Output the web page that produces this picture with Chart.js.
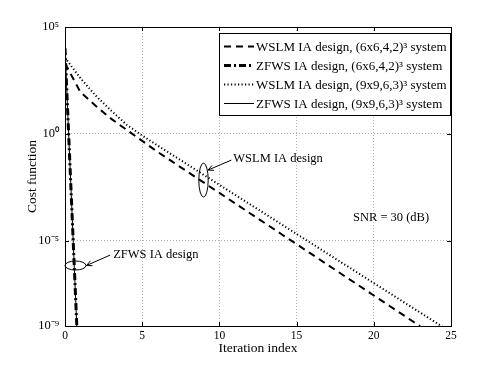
<!DOCTYPE html>
<html>
<head>
<meta charset="utf-8">
<script src="https://cdn.jsdelivr.net/npm/chart.js@4.4.0/dist/chart.umd.min.js"></script>
<style>
  html, body { margin: 0; padding: 0; background: #fff; }
  #wrap { width: 498px; height: 367px; }
</style>
</head>
<body>
<div id="wrap"><canvas id="chart"></canvas></div>
<script>
/* Cost function vs. iteration index (log scale), WSLM / ZFWS IA design */

const FONT = '"Liberation Serif", "Times New Roman", serif';

// ---------------------- Data ----------------------
const iterZF = [0, 1];
const costZF66 = [1.0e4, 1.0e-13];
const costZF99 = [1.1e4, 1.0e-13];

const iterWS66 = [0, 1, 2, 3, 4, 5, 6, 7, 8, 9, 10, 11, 12, 13, 14, 15, 16, 17, 18, 19, 20, 21, 22, 23];
const costWS66 = [2.0e3, 89, 20, 5.0, 1.51, 0.468, 0.141, 4.68e-2, 1.55e-2, 5.13e-3, 1.70e-3, 5.62e-4,
                  1.86e-4, 6.17e-5, 2.04e-5, 6.76e-6, 2.24e-6, 7.41e-7, 2.45e-7, 8.13e-8, 2.69e-8,
                  8.91e-9, 2.95e-9, 9.77e-10];

const iterWS99 = [0, 1, 2, 3, 4, 5, 6, 7, 8, 9, 10, 11, 12, 13, 14, 15, 16, 17, 18, 19, 20, 21, 22, 23, 24, 25];
const costWS99 = [3.7e3, 398, 60, 12.0, 2.63, 0.832, 0.282, 9.77e-2, 3.39e-2, 1.17e-2, 4.07e-3, 1.41e-3,
                  4.90e-4, 1.70e-4, 5.89e-5, 2.04e-5, 7.08e-6, 2.45e-6, 8.51e-7, 2.95e-7, 1.02e-7,
                  3.55e-8, 1.23e-8, 4.27e-9, 1.48e-9, 5.13e-10];

const seriesLabels = [
  'WSLM IA design, (6x6,4,2)\u00b3 system',
  'ZFWS IA design, (6x6,4,2)\u00b3 system',
  'WSLM IA design, (9x9,6,3)\u00b3 system',
  'ZFWS IA design, (9x9,6,3)\u00b3 system',
];

const xTicks = [0, 5, 10, 15, 20, 25];
const yTicks = [1e-9, 1e-5, 1e0, 1e5];
const yTickLabels = ['10\u207b\u2079', '10\u207b\u2075', '10\u2070', '10\u2075'];

// annotations (data coordinates)
const noteWS = { text: 'WSLM IA design', x: 10.9, y: 6.5e-2, ex: 8.97, ey: 6.8e-3 };
const noteZF = { text: 'ZFWS IA design', x: 3.12, y: 2.1e-6, ex: 0.68, ey: 6.8e-7 };
const noteSNR = { text: 'SNR = 30 (dB)', x: 18.65, y: 1.23e-4 };

// ---------------------- Styles ----------------------
const STYLES = [
  { width: 2,   dash: [7, 5] },
  { width: 3,   dash: [7, 3, 2, 3] },
  { width: 2,   dash: [1.2, 2.3] },
  { width: 1,   dash: [] },
];

const pts = (xs, ys) => xs.map((x, i) => ({ x, y: ys[i] }));

const datasets = [
  pts(iterWS66, costWS66),
  pts(iterZF, costZF66),
  pts(iterWS99, costWS99),
  pts(iterZF, costZF99),
].map((data, i) => ({
  label: seriesLabels[i],
  data,
  showLine: true,
  borderColor: '#000',
  backgroundColor: '#000',
  borderWidth: STYLES[i].width,
  borderDash: STYLES[i].dash,
  pointRadius: 0,
  tension: 0,
  order: 4 - i,
}));

// ---------------------- Frame, inward ticks, legend, notes ----------------------
function arrow(ctx, x1, y1, x2, y2) {
  const a = Math.atan2(y2 - y1, x2 - x1);
  const L = 6;
  ctx.beginPath();
  ctx.moveTo(x1, y1);
  ctx.lineTo(x2, y2);
  ctx.moveTo(x2 - L * Math.cos(a - 0.45), y2 - L * Math.sin(a - 0.45));
  ctx.lineTo(x2, y2);
  ctx.lineTo(x2 - L * Math.cos(a + 0.45), y2 - L * Math.sin(a + 0.45));
  ctx.stroke();
}

const decor = {
  id: 'decor',
  afterDraw(chart) {
    const { ctx, chartArea: a, scales: { x, y } } = chart;
    ctx.save();
    ctx.strokeStyle = '#000';
    ctx.lineWidth = 1;
    ctx.setLineDash([]);

    // inward ticks
    ctx.beginPath();
    xTicks.slice(1, -1).forEach(v => {
      const px = Math.round(x.getPixelForValue(v)) + 0.5;
      ctx.moveTo(px, a.bottom); ctx.lineTo(px, a.bottom - 4);
      ctx.moveTo(px, a.top); ctx.lineTo(px, a.top + 4);
    });
    yTicks.slice(1, -1).forEach(v => {
      const py = Math.round(y.getPixelForValue(v)) + 0.5;
      ctx.moveTo(a.left, py); ctx.lineTo(a.left + 4, py);
      ctx.moveTo(a.right, py); ctx.lineTo(a.right - 4, py);
    });
    ctx.stroke();

    // frame
    ctx.strokeRect(Math.round(a.left) + 0.5, Math.round(a.top) + 0.5,
                   Math.round(a.right - a.left), Math.round(a.bottom - a.top));

    // legend box
    const lx = 219.5, ly = 33.5, lw = 231, lh = 82;
    ctx.fillStyle = '#fff';
    ctx.fillRect(lx, ly, lw, lh);
    ctx.strokeRect(lx, ly, lw, lh);
    ctx.font = '13px ' + FONT;
    ctx.fillStyle = '#000';
    ctx.textBaseline = 'middle';
    ctx.textAlign = 'left';
    seriesLabels.forEach((lbl, i) => {
      const ry = 46.5 + i * 19;
      ctx.save();
      ctx.lineWidth = STYLES[i].width;
      ctx.setLineDash(STYLES[i].dash);
      ctx.beginPath();
      ctx.moveTo(224, ry); ctx.lineTo(254, ry);
      ctx.stroke();
      ctx.restore();
      ctx.fillText(lbl, 256, ry + 1);
    });

    // annotations
    ctx.font = '12.5px ' + FONT;
    const wsX = x.getPixelForValue(noteWS.ex), wsY = y.getPixelForValue(noteWS.ey);
    ctx.beginPath();
    ctx.ellipse(wsX, wsY, 4.7, 17, 0, 0, Math.PI * 2);
    ctx.stroke();
    const wtX = x.getPixelForValue(noteWS.x), wtY = y.getPixelForValue(noteWS.y);
    arrow(ctx, wtX - 2, wtY + 1, wsX + 4.5, wsY - 10);
    ctx.fillText(noteWS.text, wtX, wtY);

    const zfX = x.getPixelForValue(noteZF.ex), zfY = y.getPixelForValue(noteZF.ey);
    ctx.beginPath();
    ctx.ellipse(zfX, zfY, 10.5, 4.5, 0, 0, Math.PI * 2);
    ctx.stroke();
    const ztX = x.getPixelForValue(noteZF.x), ztY = y.getPixelForValue(noteZF.y);
    arrow(ctx, ztX - 3, ztY, zfX + 11, zfY);
    ctx.fillText(noteZF.text, ztX, ztY);

    ctx.fillText(noteSNR.text, x.getPixelForValue(noteSNR.x), y.getPixelForValue(noteSNR.y));
    ctx.restore();
  },
};

// ---------------------- Chart ----------------------
new Chart(document.getElementById('chart'), {
  type: 'scatter',
  data: { datasets },
  options: {
    responsive: true,
    maintainAspectRatio: false,
    animation: false,
    layout: { padding: { top: 27, right: 47, left: 0, bottom: 0 } },
    plugins: { legend: { display: false }, tooltip: { enabled: false } },
    scales: {
      x: {
        type: 'linear',
        min: 0,
        max: 25,
        afterBuildTicks: s => { s.ticks = xTicks.map(v => ({ value: v })); },
        afterFit: s => { s.height = 41; },
        ticks: { color: '#000', font: { family: FONT, size: 11.5 }, padding: 3, maxRotation: 0 },
        grid: {
          color: c => (c.tick && (c.tick.value === 0 || c.tick.value === 25)) ? 'rgba(0,0,0,0)' : '#b4b4b4',
          drawTicks: false,
        },
        border: { display: false, dash: [1, 2] },
        title: {
          display: true, text: 'Iteration index', color: '#000',
          font: { family: FONT, size: 13.5 }, padding: { top: 10, bottom: 10 },
        },
      },
      y: {
        type: 'logarithmic',
        min: 1e-9,
        max: 1e5,
        afterBuildTicks: s => { s.ticks = yTicks.map(v => ({ value: v })); },
        afterFit: s => { s.width = 65; },
        ticks: {
          color: '#000', font: { family: FONT, size: 12.5 }, padding: 6,
          callback: (v, i) => yTickLabels[i],
        },
        grid: {
          color: c => (c.tick && (c.tick.value === 1e-9 || c.tick.value === 1e5)) ? 'rgba(0,0,0,0)' : '#b4b4b4',
          drawTicks: false,
        },
        border: { display: false, dash: [1, 2] },
        title: {
          display: true, text: 'Cost function', color: '#000',
          font: { family: FONT, size: 13.5 }, padding: { top: 24, bottom: 24 },
        },
      },
    },
  },
  plugins: [decor],
});
</script>
</body>
</html>
